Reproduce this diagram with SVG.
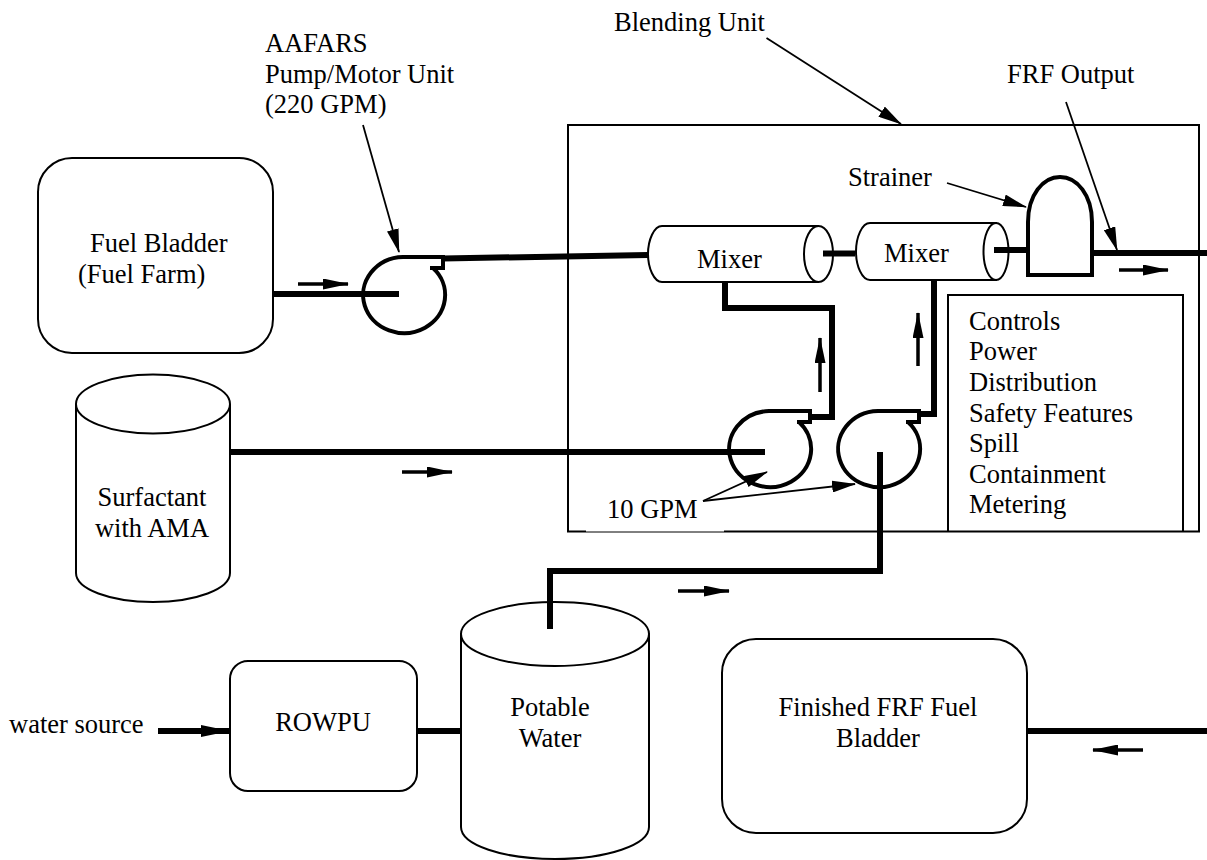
<svg xmlns="http://www.w3.org/2000/svg" width="1207" height="860" viewBox="0 0 1207 860">
<style>
text{font-family:"Liberation Serif","Times New Roman",serif;font-size:26.500px;fill:#000}
.m{text-anchor:middle}
.s{fill:#fff;stroke:#000;stroke-width:2}
.p{fill:none;stroke:#000;stroke-width:6;stroke-linejoin:miter}
.u{fill:none;stroke:#000;stroke-width:4}
.l{fill:none;stroke:#000;stroke-width:1.800;marker-end:url(#a)}
.f{fill:none;stroke:#000;stroke-width:3.500;marker-end:url(#b)}
.t{fill:none;stroke:#000;stroke-width:6;marker-end:url(#c)}
</style>
<defs>
<marker id="a" markerUnits="userSpaceOnUse" markerWidth="24" markerHeight="12" refX="23" refY="6" orient="auto"><path d="M0 0L24 6L0 12Z"/></marker>
<marker id="b" markerUnits="userSpaceOnUse" markerWidth="26" markerHeight="11" refX="25" refY="5.500" orient="auto"><path d="M0 0L26 5.500L0 11Z"/></marker>
<marker id="c" markerUnits="userSpaceOnUse" markerWidth="29" markerHeight="12" refX="28" refY="6" orient="auto"><path d="M0 0L29 6L0 12Z"/></marker>
</defs>
<rect width="1207" height="860" fill="#fff"/>
<g id="blending-unit"><path d="M586 531.500H568V125H1199V531.500H724" fill="none" stroke="#000" stroke-width="2"/><path d="M586 532H724" stroke="#000" stroke-width="1"/><text x="614" y="31">Blending Unit</text></g>
<g id="controls"><path d="M948 531V295H1183V531" fill="none" stroke="#000" stroke-width="2"/><text x="969" y="330">Controls</text><text x="969" y="360">Power</text><text x="969" y="391">Distribution</text><text x="969" y="422">Safety Features</text><text x="969" y="452">Spill</text><text x="969" y="483">Containment</text><text x="969" y="513">Metering</text></g>
<g id="fuel-bladder"><rect class="s" x="38" y="158" width="235" height="195" rx="34"/><text x="90" y="252">Fuel Bladder</text><text x="78" y="283">(Fuel Farm)</text></g>
<g id="surfactant"><path class="s" d="M76 404V573C76 589 110 602 153 602S230 589 230 573V404"/><ellipse class="s" cx="153" cy="404" rx="77" ry="29.500"/><text class="m" x="152" y="506">Surfactant</text><text class="m" x="152" y="537">with AMA</text></g>
<g id="potable-water"><path class="s" d="M461 633V827C461 845 503 859 555 859S649 845 649 827V633"/><ellipse class="s" cx="555" cy="634" rx="94" ry="32"/><text class="m" x="550" y="716">Potable</text><text class="m" x="550" y="747">Water</text></g>
<g id="rowpu"><rect class="s" x="230" y="661" width="187" height="130" rx="18"/><text class="m" x="323" y="731">ROWPU</text></g>
<g id="finished-bladder"><rect class="s" x="722" y="639" width="305" height="194" rx="34"/><text class="m" x="878" y="716">Finished FRF Fuel</text><text class="m" x="878" y="747">Bladder</text></g>
<g id="mixer-1"><path class="s" d="M662 226H818V282H662C654 282 648 268 648 254S654 226 662 226Z"/><ellipse class="s" cx="818.500" cy="254" rx="14.500" ry="28"/><text x="697" y="268">Mixer</text></g>
<g id="mixer-2"><path class="s" d="M870 223H996V280H870C862 280 856 266 856 251.500S862 223 870 223Z"/><ellipse class="s" cx="996" cy="251.500" rx="12.500" ry="28.500"/><text x="884" y="262">Mixer</text></g>
<g id="strainer"><path class="u" d="M1028 275V222C1028 195 1043 177 1060 177C1077 177 1092 195 1092 222V275Z"/><text x="848" y="186">Strainer</text></g>
<g id="pump-1"><path class="u" d="M430 268H443V257H403A41 38 0 1 0 433 268"/><text x="265" y="52">AAFARS</text><text x="265" y="83">Pump/Motor Unit</text><text x="265" y="113">(220 GPM)</text></g>
<g id="pump-2"><path class="u" d="M797 422H810V411H769A41 38 0 1 0 799 422"/></g>
<g id="pump-3"><path class="u" d="M906 422H919V411H878A41 38 0 1 0 908 422"/></g>
<g id="connectors">
<path class="p" d="M273 294H399"/>
<path class="p" d="M443 258.500L648 255"/>
<path class="p" d="M823 253.500H855"/>
<path class="p" d="M994 250H1028"/>
<path class="p" d="M1092 253H1207"/>
<path class="p" d="M725 282V308H832V417H810"/>
<path class="p" d="M934 280V414H919"/>
<path class="p" d="M230 452H765"/>
<path class="p" d="M880 452V571H550V629"/>
<path class="p" d="M418 731H461"/>
<path class="p" d="M1027 731H1207"/>
<path class="t" d="M158 731H229"/>
<path class="f" d="M298 284H348"/>
<path class="f" d="M402 472H452"/>
<path class="f" d="M678 591H729"/>
<path class="f" d="M1119 270H1168"/>
<path class="f" d="M1143 750H1093"/>
<path class="f" d="M820 392V338"/>
<path class="f" d="M918 366V313"/>
<path class="l" d="M363 125L399 252"/>
<path class="l" d="M766.500 38L901 124"/>
<path class="l" d="M1066 102L1117 250"/>
<path class="l" d="M947 183L1026 207"/>
<path class="l" d="M703 501L767 472"/>
<path class="l" d="M703 501L855 484"/>
</g>
<text x="9" y="733">water source</text>
<text x="607" y="518">10 GPM</text>
<text x="1007" y="83">FRF Output</text>
</svg>
